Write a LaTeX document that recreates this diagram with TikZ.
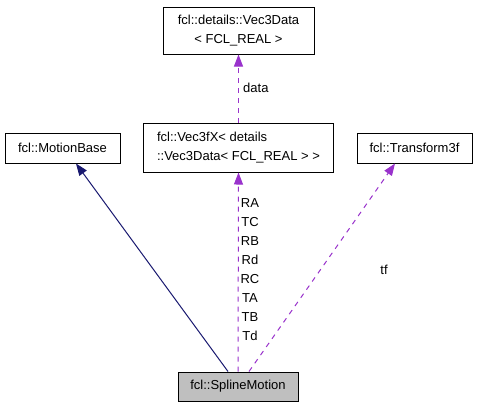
\documentclass[tikz,border=0pt]{standalone}
\usepackage{fontspec}
\setmainfont{Liberation Sans}
\usetikzlibrary{arrows.meta}
\definecolor{inhblue}{RGB}{25,25,112}
\definecolor{usepurple}{RGB}{153,50,204}
\definecolor{curgray}{RGB}{191,191,191}
\begin{document}
\begin{tikzpicture}[x=1pt,y=-1pt,
  every node/.style={font=\fontsize{13}{19}\selectfont},
  box/.style={draw=black,line width=1pt,inner sep=0pt,fill=white},
  inh/.style={draw=inhblue,line width=1pt,-{Triangle[length=12pt,width=9pt]}},
  usage/.style={draw=usepurple,line width=1pt,dash pattern=on 5pt off 5pt,-{Triangle[length=12pt,width=9pt]}},
  lbl/.style={inner sep=0pt,align=center}]
\useasboundingbox (0,0) rectangle (477,408);
\fill[white] (0,0) rectangle (477,408);
\node[box,minimum width=151pt,minimum height=47pt,align=center] (vdata) at (238.5,30.5) {fcl::details::Vec3Data\\{<} FCL\_REAL {>}};
\node[box,minimum width=190pt,minimum height=49pt,align=left] (vfx) at (238.5,147.5) {fcl::Vec3fX{<} details\\::Vec3Data{<} FCL\_REAL {>} {>}};
\node[box,minimum width=115pt,minimum height=30pt] (mbase) at (62.5,148) {fcl::MotionBase};
\node[box,minimum width=115pt,minimum height=30pt] (tf3) at (414.5,148) {fcl::Transform3f};
\node[box,fill=curgray,minimum width=120pt,minimum height=29pt] (spline) at (238,386.5) {fcl::SplineMotion};
\draw[inh] ([xshift=-10pt]spline.north) -- ([xshift=13.5pt]mbase.south);
\draw[usage] (spline.north) -- (vfx.south);
\draw[usage] ([xshift=11pt]spline.north) -- ([xshift=-19.5pt]tf3.south);
\draw[usage] (vfx.north) -- (vdata.south);
\node[lbl,anchor=west] (ldata) at (243,88) {data};
\node[lbl] (lmembers) at (250,270) {RA\\TC\\RB\\Rd\\RC\\TA\\TB\\Td};
\node[lbl] (ltf) at (384,270) {tf};
\end{tikzpicture}
\end{document}
